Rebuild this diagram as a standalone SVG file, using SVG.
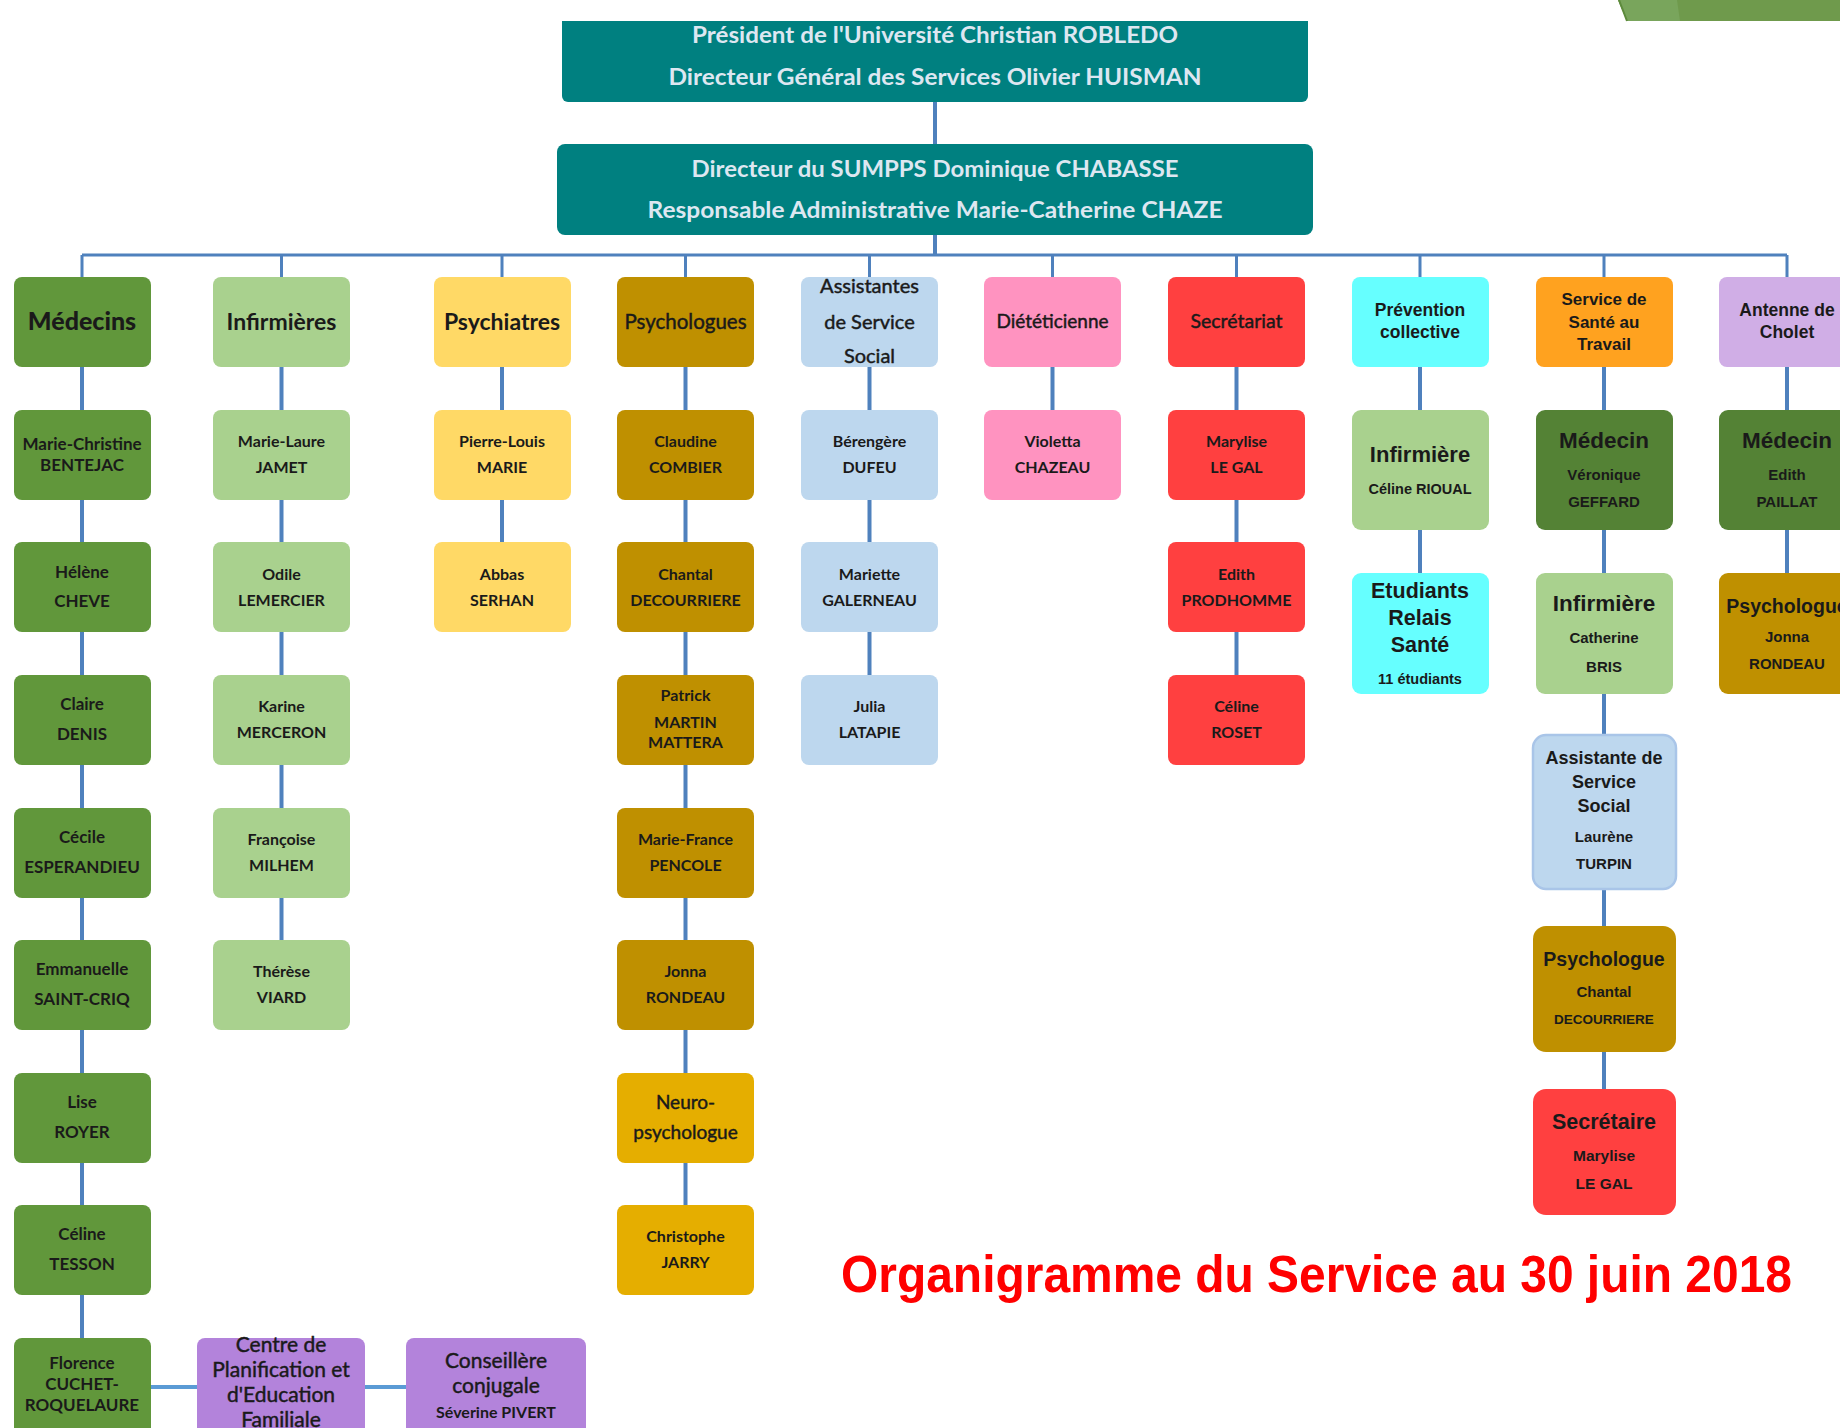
<svg xmlns="http://www.w3.org/2000/svg" width="1840" height="1428" viewBox="0 0 1840 1428">
<style>
.cn{stroke:#4f81bd;stroke-width:4;fill:none}
.bus{stroke:#4f81bd;stroke-width:3;fill:none}
.hz{stroke:#5b9bd5;stroke-width:4;fill:none}
.t{font-family:Lato,"Liberation Sans",sans-serif;text-anchor:middle;fill:#1a1a1a}
.b{font-weight:700}
.rg{stroke:#1a1a1a;stroke-width:0.45}
.n{font-family:Lato,"Liberation Sans",sans-serif;text-anchor:middle;fill:#1a1a1a;font-weight:700;font-size:16px}
.nm{font-family:Lato,"Liberation Sans",sans-serif;text-anchor:middle;fill:#1a1a1a;font-weight:700;font-size:17px}
.r{font-family:"Liberation Sans",Arial,sans-serif;text-anchor:middle;fill:#1a1a1a;font-weight:700}
.top{font-family:Lato,"Liberation Sans",sans-serif;text-anchor:middle;fill:#dde7f1;font-weight:700;font-size:22px}
.teal{fill:#008080}
.med{fill:#61973b}
.medd{fill:#548235}
.inf{fill:#a9d18e}
.psyc{fill:#ffd966}
.psyg{fill:#bf9000}
.neur{fill:#e5ae00}
.ass{fill:#bdd7ee}
.die{fill:#ff93c0}
.sec{fill:#ff4040}
.prev{fill:#66ffff}
.sst{fill:#ffa21f}
.ant{fill:#d0aee6}
.cpef{fill:#b383db}
</style>

<g id="corner">
<polygon points="1618,0 1627,21 1840,21 1840,0" fill="#6f9a4c"/>
<polygon points="1618,0 1677,0 1680,21 1627,21" fill="#79a55c"/>
<line x1="1619" y1="0" x2="1627" y2="21" stroke="#5d8a3c" stroke-width="2"/>
</g>

<g id="connectors">
<path class="cn" d="M935 102V144M935 235V255"/>
<path class="bus" d="M82 255H1787M82 255V277M281.5 255V277M502 255V277M685.5 255V277M869.5 255V277M1052.5 255V277M1236.5 255V277M1420 255V277M1604 255V277M1787 255V277"/>
<path class="cn" d="M82 367V410M82 500V542M82 632V675M82 765V808M82 898V940M82 1030V1073M82 1163V1205M82 1295V1338"/>
<path class="cn" d="M281.5 367V410M281.5 500V542M281.5 632V675M281.5 765V808M281.5 898V940"/>
<path class="cn" d="M502 367V410M502 500V542"/>
<path class="cn" d="M685.5 367V410M685.5 500V542M685.5 632V675M685.5 765V808M685.5 898V940M685.5 1030V1073M685.5 1163V1205"/>
<path class="cn" d="M869.5 367V410M869.5 500V542M869.5 632V675"/>
<path class="cn" d="M1052.5 367V410"/>
<path class="cn" d="M1236.5 367V410M1236.5 500V542M1236.5 632V675"/>
<path class="cn" d="M1420 367V410M1420 530V573"/>
<path class="cn" d="M1604 367V410M1604 530V573M1604 694V735M1604 889V926M1604 1052V1089"/>
<path class="cn" d="M1787 367V410M1787 530V573"/>
<path class="hz" d="M151 1387H197M365 1387H406"/>
</g>

<g id="president">
<path class="teal" d="M562 21H1308V96a6 6 0 0 1-6 6H568a6 6 0 0 1-6-6Z"/>
<text class="top" x="935" y="43" textLength="486" lengthAdjust="spacingAndGlyphs">Président de l'Université Christian ROBLEDO</text>
<text class="top" x="935" y="85" textLength="533" lengthAdjust="spacingAndGlyphs">Directeur Général des Services Olivier HUISMAN</text>
</g>
<g id="directeur">
<rect class="teal" x="557" y="144" width="756" height="91" rx="8"/>
<text class="top" x="935" y="177" textLength="487" lengthAdjust="spacingAndGlyphs">Directeur du SUMPPS Dominique CHABASSE</text>
<text class="top" x="935" y="218" textLength="575" lengthAdjust="spacingAndGlyphs">Responsable Administrative Marie-Catherine CHAZE</text>
</g>

<!-- Médecins column -->
<g id="medecins"><rect class="med" x="14" y="277" width="137" height="90" rx="8"/><text class="t" x="82" y="330" font-size="25" font-weight="900">Médecins</text></g>
<g id="bentejac"><rect class="med" x="14" y="410" width="137" height="90" rx="8"/><text class="nm" x="82" y="450">Marie-Christine</text><text class="nm" x="82" y="471">BENTEJAC</text></g>
<g id="cheve"><rect class="med" x="14" y="542" width="137" height="90" rx="8"/><text class="nm" x="82" y="578">Hélène</text><text class="nm" x="82" y="607">CHEVE</text></g>
<g id="denis"><rect class="med" x="14" y="675" width="137" height="90" rx="8"/><text class="nm" x="82" y="710">Claire</text><text class="nm" x="82" y="740">DENIS</text></g>
<g id="esperandieu"><rect class="med" x="14" y="808" width="137" height="90" rx="8"/><text class="nm" x="82" y="843">Cécile</text><text class="nm" x="82" y="873">ESPERANDIEU</text></g>
<g id="saintcriq"><rect class="med" x="14" y="940" width="137" height="90" rx="8"/><text class="nm" x="82" y="975">Emmanuelle</text><text class="nm" x="82" y="1005">SAINT-CRIQ</text></g>
<g id="royer"><rect class="med" x="14" y="1073" width="137" height="90" rx="8"/><text class="nm" x="82" y="1108">Lise</text><text class="nm" x="82" y="1138">ROYER</text></g>
<g id="tesson"><rect class="med" x="14" y="1205" width="137" height="90" rx="8"/><text class="nm" x="82" y="1240">Céline</text><text class="nm" x="82" y="1270">TESSON</text></g>
<g id="cuchet"><rect class="med" x="14" y="1338" width="137" height="100" rx="8"/><text class="nm" x="82" y="1369">Florence</text><text class="nm" x="82" y="1390">CUCHET-</text><text class="nm" x="82" y="1411">ROQUELAURE</text></g>
<g id="cpef"><rect class="cpef" x="197" y="1338" width="168" height="100" rx="8"/><text class="t rg" x="281" y="1352" font-size="21">Centre de</text><text class="t rg" x="281" y="1377" font-size="21">Planification et</text><text class="t rg" x="281" y="1402" font-size="21">d'Education</text><text class="t rg" x="281" y="1427" font-size="21">Familiale</text></g>
<g id="conseillere"><rect class="cpef" x="406" y="1338" width="180" height="100" rx="8"/><text class="t rg" x="496" y="1368" font-size="21">Conseillère</text><text class="t rg" x="496" y="1393" font-size="21">conjugale</text><text class="n" x="496" y="1418">Séverine PIVERT</text></g>

<!-- Infirmières -->
<g id="infirmieres"><rect class="inf" x="213" y="277" width="137" height="90" rx="8"/><text class="t b" x="281.5" y="330" font-size="23">Infirmières</text></g>
<g id="jamet"><rect class="inf" x="213" y="410" width="137" height="90" rx="8"/><text class="n" x="281.5" y="447">Marie-Laure</text><text class="n" x="281.5" y="473">JAMET</text></g>
<g id="lemercier"><rect class="inf" x="213" y="542" width="137" height="90" rx="8"/><text class="n" x="281.5" y="580">Odile</text><text class="n" x="281.5" y="606">LEMERCIER</text></g>
<g id="merceron"><rect class="inf" x="213" y="675" width="137" height="90" rx="8"/><text class="n" x="281.5" y="712">Karine</text><text class="n" x="281.5" y="738">MERCERON</text></g>
<g id="milhem"><rect class="inf" x="213" y="808" width="137" height="90" rx="8"/><text class="n" x="281.5" y="845">Françoise</text><text class="n" x="281.5" y="871">MILHEM</text></g>
<g id="viard"><rect class="inf" x="213" y="940" width="137" height="90" rx="8"/><text class="n" x="281.5" y="977">Thérèse</text><text class="n" x="281.5" y="1003">VIARD</text></g>

<!-- Psychiatres -->
<g id="psychiatres"><rect class="psyc" x="434" y="277" width="137" height="90" rx="8"/><text class="t b" x="502" y="330" font-size="23">Psychiatres</text></g>
<g id="marie"><rect class="psyc" x="434" y="410" width="137" height="90" rx="8"/><text class="n" x="502" y="447">Pierre-Louis</text><text class="n" x="502" y="473">MARIE</text></g>
<g id="serhan"><rect class="psyc" x="434" y="542" width="137" height="90" rx="8"/><text class="n" x="502" y="580">Abbas</text><text class="n" x="502" y="606">SERHAN</text></g>

<!-- Psychologues -->
<g id="psychologues"><rect class="psyg" x="617" y="277" width="137" height="90" rx="8"/><text class="t rg" x="685.5" y="329" font-size="20.5">Psychologues</text></g>
<g id="combier"><rect class="psyg" x="617" y="410" width="137" height="90" rx="8"/><text class="n" x="685.5" y="447">Claudine</text><text class="n" x="685.5" y="473">COMBIER</text></g>
<g id="decourriere"><rect class="psyg" x="617" y="542" width="137" height="90" rx="8"/><text class="n" x="685.5" y="580">Chantal</text><text class="n" x="685.5" y="606">DECOURRIERE</text></g>
<g id="mattera"><rect class="psyg" x="617" y="675" width="137" height="90" rx="8"/><text class="n" x="685.5" y="701">Patrick</text><text class="n" x="685.5" y="728">MARTIN</text><text class="n" x="685.5" y="748">MATTERA</text></g>
<g id="pencole"><rect class="psyg" x="617" y="808" width="137" height="90" rx="8"/><text class="n" x="685.5" y="845">Marie-France</text><text class="n" x="685.5" y="871">PENCOLE</text></g>
<g id="rondeau"><rect class="psyg" x="617" y="940" width="137" height="90" rx="8"/><text class="n" x="685.5" y="977">Jonna</text><text class="n" x="685.5" y="1003">RONDEAU</text></g>
<g id="neuro"><rect class="neur" x="617" y="1073" width="137" height="90" rx="8"/><text class="t rg" x="685.5" y="1109" font-size="19">Neuro-</text><text class="t rg" x="685.5" y="1139" font-size="19">psychologue</text></g>
<g id="jarry"><rect class="neur" x="617" y="1205" width="137" height="90" rx="8"/><text class="n" x="685.5" y="1242">Christophe</text><text class="n" x="685.5" y="1268">JARRY</text></g>

<!-- Assistantes -->
<g id="assistantes"><rect class="ass" x="801" y="277" width="137" height="90" rx="8"/><text class="t rg" x="869.5" y="293" font-size="20">Assistantes</text><text class="t rg" x="869.5" y="329" font-size="20">de Service</text><text class="t rg" x="869.5" y="363" font-size="20">Social</text></g>
<g id="dufeu"><rect class="ass" x="801" y="410" width="137" height="90" rx="8"/><text class="n" x="869.5" y="447">Bérengère</text><text class="n" x="869.5" y="473">DUFEU</text></g>
<g id="galerneau"><rect class="ass" x="801" y="542" width="137" height="90" rx="8"/><text class="n" x="869.5" y="580">Mariette</text><text class="n" x="869.5" y="606">GALERNEAU</text></g>
<g id="latapie"><rect class="ass" x="801" y="675" width="137" height="90" rx="8"/><text class="n" x="869.5" y="712">Julia</text><text class="n" x="869.5" y="738">LATAPIE</text></g>

<!-- Diététicienne -->
<g id="dieteticienne"><rect class="die" x="984" y="277" width="137" height="90" rx="8"/><text class="t rg" x="1052.5" y="328" font-size="19">Diététicienne</text></g>
<g id="chazeau"><rect class="die" x="984" y="410" width="137" height="90" rx="8"/><text class="n" x="1052.5" y="447">Violetta</text><text class="n" x="1052.5" y="473">CHAZEAU</text></g>

<!-- Secrétariat -->
<g id="secretariat"><rect class="sec" x="1168" y="277" width="137" height="90" rx="8"/><text class="t rg" x="1236.5" y="328" font-size="19.5">Secrétariat</text></g>
<g id="legal"><rect class="sec" x="1168" y="410" width="137" height="90" rx="8"/><text class="n" x="1236.5" y="447">Marylise</text><text class="n" x="1236.5" y="473">LE GAL</text></g>
<g id="prodhomme"><rect class="sec" x="1168" y="542" width="137" height="90" rx="8"/><text class="n" x="1236.5" y="580">Edith</text><text class="n" x="1236.5" y="606">PRODHOMME</text></g>
<g id="roset"><rect class="sec" x="1168" y="675" width="137" height="90" rx="8"/><text class="n" x="1236.5" y="712">Céline</text><text class="n" x="1236.5" y="738">ROSET</text></g>

<!-- Prévention collective -->
<g id="prevention"><rect class="prev" x="1352" y="277" width="137" height="90" rx="8"/><text class="r" x="1420" y="316" font-size="17.5">Prévention</text><text class="r" x="1420" y="338" font-size="17.5">collective</text></g>
<g id="rioual"><rect class="inf" x="1352" y="410" width="137" height="120" rx="9"/><text class="r" x="1420" y="462" font-size="22">Infirmière</text><text class="r" x="1420" y="494" font-size="14.5">Céline RIOUAL</text></g>
<g id="etudiants"><rect class="prev" x="1352" y="573" width="137" height="121" rx="9"/><text class="r" x="1420" y="598" font-size="21.5">Etudiants</text><text class="r" x="1420" y="625" font-size="21.5">Relais</text><text class="r" x="1420" y="652" font-size="21.5">Santé</text><text class="r" x="1420" y="684" font-size="14.5">11 étudiants</text></g>

<!-- Service de Santé au Travail -->
<g id="sst"><rect class="sst" x="1536" y="277" width="137" height="90" rx="8"/><text class="r" x="1604" y="305" font-size="17">Service de</text><text class="r" x="1604" y="328" font-size="17">Santé au</text><text class="r" x="1604" y="350" font-size="17">Travail</text></g>
<g id="geffard"><rect class="medd" x="1536" y="410" width="137" height="120" rx="9"/><text class="r" x="1604" y="448" font-size="22.5">Médecin</text><text class="r" x="1604" y="480" font-size="15">Véronique</text><text class="r" x="1604" y="507" font-size="15">GEFFARD</text></g>
<g id="bris"><rect class="inf" x="1536" y="573" width="137" height="121" rx="9"/><text class="r" x="1604" y="611" font-size="22.5">Infirmière</text><text class="r" x="1604" y="643" font-size="15">Catherine</text><text class="r" x="1604" y="672" font-size="15">BRIS</text></g>
<g id="turpin"><rect class="ass" x="1533" y="735" width="143" height="154" rx="13" stroke="#a9c5e8" stroke-width="2.5"/><text class="r" x="1604" y="764" font-size="18">Assistante de</text><text class="r" x="1604" y="788" font-size="18">Service</text><text class="r" x="1604" y="812" font-size="18">Social</text><text class="r" x="1604" y="842" font-size="15">Laurène</text><text class="r" x="1604" y="869" font-size="15">TURPIN</text></g>
<g id="decourriere2"><rect class="psyg" x="1533" y="926" width="143" height="126" rx="13"/><text class="r" x="1604" y="966" font-size="19.5">Psychologue</text><text class="r" x="1604" y="997" font-size="15">Chantal</text><text class="r" x="1604" y="1024" font-size="13.5">DECOURRIERE</text></g>
<g id="legal2"><rect class="sec" x="1533" y="1089" width="143" height="126" rx="13"/><text class="r" x="1604" y="1129" font-size="21.5">Secrétaire</text><text class="r" x="1604" y="1161" font-size="15.5">Marylise</text><text class="r" x="1604" y="1189" font-size="15.5">LE GAL</text></g>

<!-- Antenne de Cholet -->
<g id="cholet"><rect class="ant" x="1719" y="277" width="137" height="90" rx="8"/><text class="r" x="1787" y="316" font-size="17.5">Antenne de</text><text class="r" x="1787" y="338" font-size="17.5">Cholet</text></g>
<g id="paillat"><rect class="medd" x="1719" y="410" width="137" height="120" rx="9"/><text class="r" x="1787" y="448" font-size="22.5">Médecin</text><text class="r" x="1787" y="480" font-size="15">Edith</text><text class="r" x="1787" y="507" font-size="15">PAILLAT</text></g>
<g id="rondeau2"><rect class="psyg" x="1719" y="573" width="137" height="121" rx="9"/><text class="r" x="1787" y="613" font-size="19.5">Psychologue</text><text class="r" x="1787" y="642" font-size="15">Jonna</text><text class="r" x="1787" y="669" font-size="15">RONDEAU</text></g>

<text x="841" y="1292" font-family="'Liberation Sans',Arial,sans-serif" font-weight="700" font-size="52" fill="#ff0000" textLength="951" lengthAdjust="spacingAndGlyphs">Organigramme du Service au 30 juin 2018</text>
</svg>
